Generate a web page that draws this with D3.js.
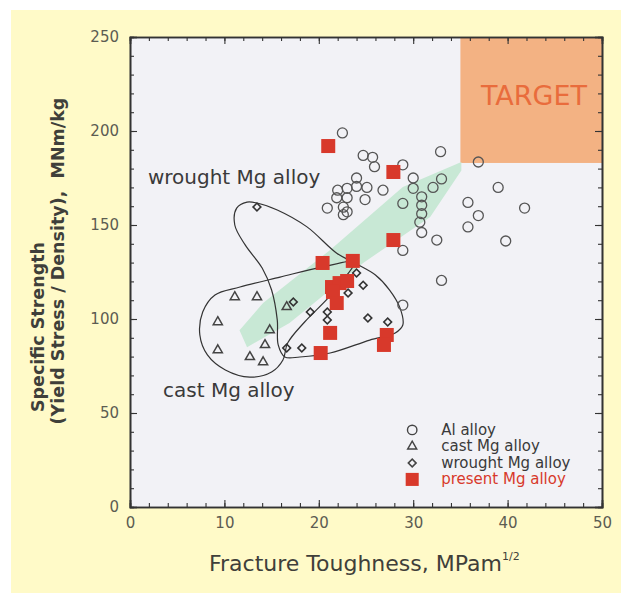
<!DOCTYPE html>
<html>
<head>
<meta charset="utf-8">
<script src="https://cdn.jsdelivr.net/npm/d3@7"></script>
<style>
  html, body { margin: 0; padding: 0; background: #fff; }
  svg { display: block; font-family: 'DejaVu Sans', sans-serif; }
</style>
</head>
<body>
<svg id="chart"></svg>
<script>
// [fracture toughness, specific strength]
const alAlloy = [
  [22.5, 199], [32.9, 189], [36.9, 183.5], [39.0, 170], [41.8, 159],
  [35.8, 162], [36.9, 155], [35.8, 149], [39.8, 141.5], [32.5, 142],
  [33.0, 120.5], [30.0, 175], [30.0, 169.5], [30.9, 165], [30.9, 160.5],
  [30.9, 156], [30.7, 151.5], [30.9, 146], [28.9, 161.5], [32.1, 170],
  [33.0, 174.5], [28.9, 136.5], [24.7, 187], [25.7, 186], [25.9, 181],
  [28.9, 182], [24.0, 175], [25.1, 170], [24.0, 170.5], [23.0, 169.5],
  [22.0, 168.5], [21.9, 164.5], [23.0, 164.5], [24.9, 163.5], [20.9, 159],
  [22.6, 159.5], [23.0, 157], [22.6, 155.5], [26.8, 168.5], [28.9, 107.4]
];
const castMg = [
  [11.1, 111.7], [13.45, 111.7], [9.3, 98.4], [9.3, 83.5], [12.7, 79.8],
  [14.8, 94.1], [14.3, 86.2], [14.1, 77.1], [16.6, 106.4]
];
const wroughtMg = [
  [13.45, 159.6], [17.3, 109], [24.7, 118], [23.1, 113.8], [19.1, 103.7],
  [20.9, 103.7], [20.9, 99.5], [25.2, 100.5], [27.3, 98.4], [16.6, 84.6],
  [18.2, 84.6], [24.0, 124.5]
];
const presentMg = [
  [21.0, 192], [27.9, 178.2], [27.9, 142], [20.4, 129.8], [23.6, 130.9],
  [21.4, 117], [22.2, 119.1], [23.0, 120.2], [21.5, 114.4], [21.9, 108.5],
  [21.2, 92.6], [20.2, 81.9], [27.2, 91.5], [26.9, 86.2]
];

// hand-traced property envelopes
const wroughtOutline = [
  [13.45, 161.7], [15.6, 158], [18.75, 149], [21.9, 135], [23.8, 129.8],
  [26.0, 123.4], [27.5, 115.4], [28.6, 105.9], [28.9, 96.8], [28.1, 92.6],
  [25.4, 88.8], [21.2, 81.9], [18.0, 79.8], [16.4, 79.8], [15.7, 86.2],
  [15.6, 99.5], [15.0, 115.4], [14.0, 127.1], [12.2, 139.4], [11.1, 150],
  [11.3, 159], [12.4, 162.2]
];
const castOutline = [
  [23.8, 130.3], [20.4, 127.7], [15.9, 122.3], [11.65, 117], [9.0, 112.8],
  [7.7, 103.7], [7.4, 91.5], [8.2, 80.9], [10.1, 72.9], [12.7, 69.1],
  [15.0, 71.8], [16.2, 78.2], [16.7, 87.2], [18.5, 98.4], [21.0, 111.2],
  [22.8, 122.3]
];
const trendBand = [
  [11.6, 94], [14.1, 108.5], [21.2, 136.7], [28.9, 170.2], [35.1, 183.5],
  [35.1, 179], [31.8, 154.3], [24.7, 129.8], [16.9, 97.9], [12.4, 85]
];
const targetBox = { x0: 35, x1: 50, y0: 183, y1: 250 };

const xTicks = [0, 10, 20, 30, 40, 50];
const yTicks = [0, 50, 100, 150, 200, 250];
const legendLabels = ['Al alloy', 'cast Mg alloy', 'wrought Mg alloy', 'present Mg alloy'];

const width = 621;
const height = 593;
const margin = { top: 37, right: 19, bottom: 86, left: 130 };
const red = '#d8392b';

const svg = d3.select('#chart')
  .attr('width', width)
  .attr('height', height);

svg.append('rect')
  .attr('x', 11).attr('y', 10)
  .attr('width', width - 11).attr('height', height - 10)
  .attr('fill', '#fffac8');

const x = d3.scaleLinear()
  .domain([0, 50])
  .range([margin.left, width - margin.right]);

const y = d3.scaleLinear()
  .domain([0, 250])
  .range([height - margin.bottom, margin.top]);

svg.append('rect')
  .attr('x', x(0)).attr('y', y(250))
  .attr('width', x(50) - x(0)).attr('height', y(0) - y(250))
  .attr('fill', '#f2f2f6');

// target region
svg.append('rect')
  .attr('x', x(targetBox.x0)).attr('y', y(targetBox.y1))
  .attr('width', x(targetBox.x1) - x(targetBox.x0))
  .attr('height', y(targetBox.y0) - y(targetBox.y1))
  .attr('fill', '#f3b283');

svg.append('text')
  .attr('x', x(42.8)).attr('y', y(214))
  .attr('text-anchor', 'middle')
  .attr('font-size', 27)
  .attr('fill', '#e96c3c')
  .text('TARGET');

svg.append('path')
  .datum(trendBand)
  .attr('fill', '#c8e8d5')
  .attr('d', d3.line().x(d => x(d[0])).y(d => y(d[1])).curve(d3.curveLinearClosed));

const outline = d3.line()
  .x(d => x(d[0]))
  .y(d => y(d[1]))
  .curve(d3.curveCatmullRomClosed.alpha(0.5));

svg.selectAll('path.outline')
  .data([wroughtOutline, castOutline])
  .join('path')
  .attr('class', 'outline')
  .attr('fill', 'none')
  .attr('stroke', '#333')
  .attr('stroke-width', 1.2)
  .attr('d', outline);

// axes: ticks point inward on all four sides
const minorX = d3.range(0, 51, 2);
const minorY = d3.range(0, 251, 10);
const frame = svg.append('g').attr('color', '#333');

frame.append('g')
  .attr('transform', `translate(0,${y(0)})`)
  .call(d3.axisBottom(x).tickValues(minorX).tickSize(-4).tickFormat(''));
frame.append('g')
  .attr('transform', `translate(0,${y(0)})`)
  .call(d3.axisBottom(x).tickValues(xTicks).tickSize(-7).tickPadding(10));
frame.append('g')
  .attr('transform', `translate(0,${y(250)})`)
  .call(d3.axisTop(x).tickValues(minorX).tickSize(-4).tickFormat(''));
frame.append('g')
  .attr('transform', `translate(0,${y(250)})`)
  .call(d3.axisTop(x).tickValues(xTicks).tickSize(-7).tickFormat(''));

frame.append('g')
  .attr('transform', `translate(${x(0)},0)`)
  .call(d3.axisLeft(y).tickValues(minorY).tickSize(-4).tickFormat(''));
frame.append('g')
  .attr('transform', `translate(${x(0)},0)`)
  .call(d3.axisLeft(y).tickValues(yTicks).tickSize(-7).tickPadding(11));
frame.append('g')
  .attr('transform', `translate(${x(50)},0)`)
  .call(d3.axisRight(y).tickValues(minorY).tickSize(-4).tickFormat(''));
frame.append('g')
  .attr('transform', `translate(${x(50)},0)`)
  .call(d3.axisRight(y).tickValues(yTicks).tickSize(-7).tickFormat(''));

frame.selectAll('.domain').attr('stroke-width', 1.6);
frame.selectAll('.tick line').attr('stroke-width', 1.1);
frame.selectAll('.tick text')
  .attr('font-family', 'DejaVu Sans, sans-serif')
  .attr('font-size', 15)
  .attr('fill', '#5c5c52');

// markers
const symbolPath = (type, size) => d3.symbol().type(type).size(size)();
const diamondPath = symbolPath(d3.symbolSquare, 30);

svg.append('g')
  .selectAll('circle')
  .data(alAlloy)
  .join('circle')
  .attr('cx', d => x(d[0]))
  .attr('cy', d => y(d[1]))
  .attr('r', 5)
  .attr('fill', 'none')
  .attr('stroke', '#555')
  .attr('stroke-width', 1.3);

svg.append('g')
  .selectAll('path')
  .data(castMg)
  .join('path')
  .attr('transform', d => `translate(${x(d[0])},${y(d[1])})`)
  .attr('d', symbolPath(d3.symbolTriangle, 36))
  .attr('fill', 'none')
  .attr('stroke', '#444')
  .attr('stroke-width', 1.5);

svg.append('g')
  .selectAll('path')
  .data(wroughtMg)
  .join('path')
  .attr('transform', d => `translate(${x(d[0])},${y(d[1])}) rotate(45)`)
  .attr('d', diamondPath)
  .attr('fill', 'none')
  .attr('stroke', '#333')
  .attr('stroke-width', 1.6);

svg.append('g')
  .selectAll('rect')
  .data(presentMg)
  .join('rect')
  .attr('x', d => x(d[0]) - 7)
  .attr('y', d => y(d[1]) - 7)
  .attr('width', 14)
  .attr('height', 14)
  .attr('fill', red);

// region labels
svg.append('text')
  .attr('x', x(1.9)).attr('y', y(172))
  .attr('font-size', 20)
  .attr('fill', '#3a3a3a')
  .text('wrought Mg alloy');

svg.append('text')
  .attr('x', x(3.5)).attr('y', y(58.5))
  .attr('font-size', 20)
  .attr('fill', '#3a3a3a')
  .text('cast Mg alloy');

// legend
const legend = svg.append('g')
  .attr('transform', `translate(${x(30) - 1},${y(41)})`);

const legendRow = legend.selectAll('g')
  .data(legendLabels)
  .join('g')
  .attr('transform', (d, i) => `translate(0,${i * 16.5})`);

legendRow.append('path')
  .attr('d', (d, i) => i === 0 ? symbolPath(d3.symbolCircle, 70)
    : i === 1 ? symbolPath(d3.symbolTriangle, 36)
    : i === 2 ? diamondPath
    : symbolPath(d3.symbolSquare, 170))
  .attr('transform', (d, i) => i === 2 ? 'rotate(45)' : null)
  .attr('fill', (d, i) => i === 3 ? red : 'none')
  .attr('stroke', (d, i) => i === 3 ? 'none' : '#444')
  .attr('stroke-width', (d, i) => i === 2 ? 1.6 : 1.4);

legendRow.append('text')
  .attr('x', 29)
  .attr('y', 5)
  .attr('font-size', 15)
  .attr('fill', (d, i) => i === 3 ? red : '#3a3a3a')
  .text(d => d);

// axis titles
const xTitle = svg.append('text')
  .attr('x', 209)
  .attr('y', 571)
  .attr('font-size', 22)
  .attr('fill', '#3f3f3a');
xTitle.append('tspan').text('Fracture Toughness, MPam');
xTitle.append('tspan')
  .attr('dy', -11)
  .attr('font-size', 11)
  .text('1/2');

svg.append('text')
  .attr('transform', 'translate(44,327) rotate(-90)')
  .attr('text-anchor', 'middle')
  .attr('font-size', 17.5)
  .attr('font-weight', 'bold')
  .attr('fill', '#3f3f3a')
  .text('Specific Strength');

svg.append('text')
  .attr('transform', 'translate(64,261) rotate(-90)')
  .attr('text-anchor', 'middle')
  .attr('font-size', 17.5)
  .attr('font-weight', 'bold')
  .attr('fill', '#3f3f3a')
  .attr('xml:space', 'preserve')
  .text('(Yield Stress / Density),  MNm/kg');
</script>
</body>
</html>
